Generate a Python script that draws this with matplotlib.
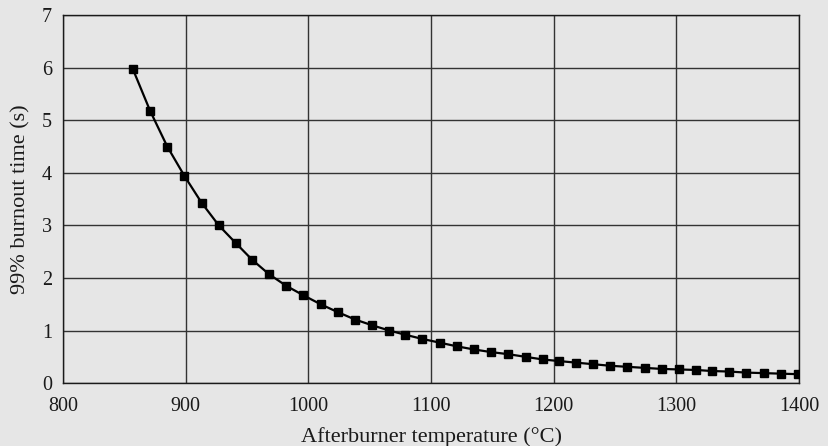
import numpy as np
import matplotlib.pyplot as plt

plt.rcParams['font.family'] = ['Liberation Serif', 'DejaVu Serif']

# afterburner temperature (deg C)
temp_c = [857, 871, 885, 899, 913, 927, 941, 954, 968, 982,
          996, 1010, 1024, 1038, 1052, 1066, 1079, 1093, 1107, 1121,
          1135, 1149, 1163, 1177, 1191, 1204, 1218, 1232, 1246, 1260,
          1274, 1288, 1302, 1316, 1329, 1343, 1357, 1371, 1385, 1399]

# 99% burnout time (s)
burnout_s = [5.97, 5.18, 4.50, 3.94, 3.43, 3.00, 2.66, 2.35, 2.07, 1.85,
             1.67, 1.50, 1.35, 1.21, 1.10, 1.00, 0.92, 0.84, 0.77, 0.70,
             0.64, 0.59, 0.55, 0.50, 0.45, 0.42, 0.39, 0.36, 0.33, 0.31,
             0.29, 0.27, 0.26, 0.25, 0.23, 0.22, 0.20, 0.19, 0.18, 0.17]

x_ticks = [800, 900, 1000, 1100, 1200, 1300, 1400]
y_ticks = [0, 1, 2, 3, 4, 5, 6, 7]

bg = '#e6e6e6'
ink = '#1a1a1a'
fig = plt.figure(figsize=(8.29, 4.46), dpi=100, facecolor=bg)
ax = fig.add_axes([0.076, 0.141, 0.888, 0.825])
ax.set_facecolor(bg)

ax.plot(temp_c, burnout_s, color='black', lw=1.6, marker='s', ms=5.2,
        mfc='black', mec='black', zorder=3)

ax.set_xlim(800, 1400)
ax.set_ylim(0, 7)
ax.set_xticks(x_ticks)
ax.set_yticks(y_ticks)
ax.tick_params(length=0, labelsize=14.5, colors=ink)
ax.tick_params(axis='x', pad=10)
ax.tick_params(axis='y', pad=8)

ax.grid(True, color='#333333', lw=1.0)
ax.set_axisbelow(True)
for s in ax.spines.values():
    s.set_color(ink)
    s.set_linewidth(1.0)

ax.set_xlabel('Afterburner temperature (°C)', fontsize=16, color=ink, labelpad=8)
ax.set_ylabel('99% burnout time (s)', fontsize=16, color=ink, labelpad=8)

fig.savefig('out.png', dpi=100, facecolor=bg)
